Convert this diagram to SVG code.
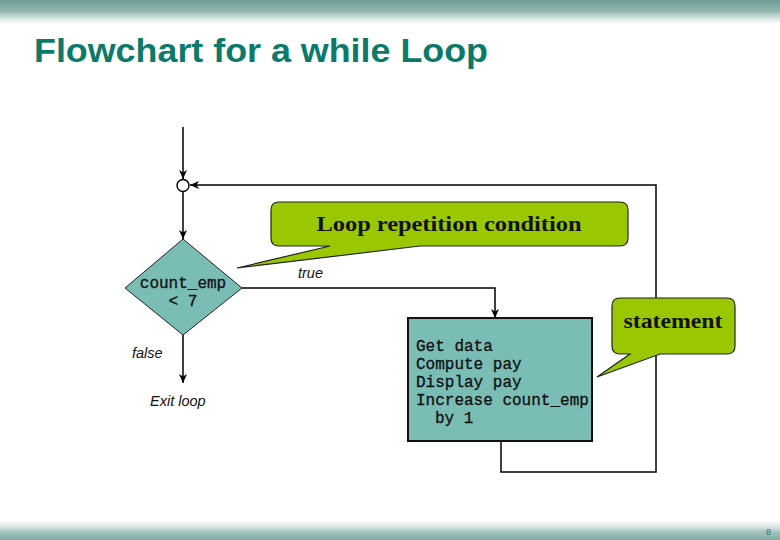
<svg xmlns="http://www.w3.org/2000/svg" width="780" height="540" viewBox="0 0 780 540">
<defs>
<linearGradient id="topband" x1="0" y1="0" x2="0" y2="1">
<stop offset="0" stop-color="#6f9c95"/>
<stop offset="0.45" stop-color="#8fb5ae"/>
<stop offset="0.75" stop-color="#d2e3e0"/>
<stop offset="1" stop-color="#ffffff"/>
</linearGradient>
<linearGradient id="botband" x1="0" y1="0" x2="0" y2="1">
<stop offset="0" stop-color="#ffffff"/>
<stop offset="0.35" stop-color="#d8e6e3"/>
<stop offset="0.6" stop-color="#a3c4be"/>
<stop offset="1" stop-color="#82aaa3"/>
</linearGradient>
<marker id="arr" markerWidth="10" markerHeight="10" refX="9" refY="4" orient="auto" markerUnits="userSpaceOnUse">
<path d="M0,0 L9,4 L0,8 L2.5,4 z" fill="#000"/>
</marker>
<style>
.conn{fill:none;stroke:#000;stroke-width:1.5}
.mono{font-family:"Liberation Mono","Courier New",monospace;font-size:16px;fill:#111;stroke:#111;stroke-width:0.3}
.lbl{font-family:"Liberation Sans",Arial,sans-serif;font-style:italic;font-size:14.5px;fill:#111}
.callout{fill:#99c800;stroke:#222;stroke-width:1.2}
.ctext{font-family:"Liberation Serif","Times New Roman",serif;font-weight:bold;font-size:22px;fill:#111}
</style>
</defs>
<rect x="0" y="0" width="780" height="540" fill="#ffffff"/>
<rect x="0" y="0" width="780" height="24" fill="url(#topband)"/>
<rect x="0" y="520" width="780" height="20" fill="url(#botband)"/>
<text x="34" y="62" font-family="Liberation Sans, Arial, sans-serif" font-weight="bold" font-size="34" fill="#0b7a6a" textLength="454" lengthAdjust="spacingAndGlyphs">Flowchart for a while Loop</text>
<text x="766" y="535" font-family="Liberation Sans, Arial, sans-serif" font-size="9" fill="#2a7a70">8</text>

<g id="connectors">
<line class="conn" x1="183" y1="127" x2="183" y2="179" marker-end="url(#arr)"/>
<line class="conn" x1="183" y1="192" x2="183" y2="239" marker-end="url(#arr)"/>
<polyline class="conn" points="242,288 495,288 495,318" marker-end="url(#arr)"/>
<polyline class="conn" points="501,441 501,472 656,472 656,185 190,185" marker-end="url(#arr)"/>
<line class="conn" x1="183" y1="335" x2="183" y2="383" marker-end="url(#arr)"/>
</g>

<g id="junction">
<circle cx="183" cy="185.5" r="6" fill="#fff" stroke="#000" stroke-width="1.4"/>
</g>

<g id="decision">
<polygon points="183,239 242,288 183,335 125,288" fill="#79bdb5" stroke="#222" stroke-width="1"/>
<text class="mono" x="183" y="288" text-anchor="middle">count_emp</text>
<text class="mono" x="183" y="306" text-anchor="middle">&lt; 7</text>
</g>

<g id="body">
<rect x="408" y="318" width="184" height="123" fill="#79bdb5" stroke="#111" stroke-width="2"/>
<text class="mono" x="416" y="351">Get data</text>
<text class="mono" x="416" y="369">Compute pay</text>
<text class="mono" x="416" y="387">Display pay</text>
<text class="mono" x="416" y="405">Increase count_emp</text>
<text class="mono" x="435" y="423">by 1</text>
</g>

<g id="label-true"><text class="lbl" x="298" y="278">true</text></g>
<g id="label-false"><text class="lbl" x="132" y="358">false</text></g>
<g id="exit"><text class="lbl" x="150" y="406">Exit loop</text></g>

<g id="callout-condition">
<path class="callout" d="M279,202 H620 Q628,202 628,210 V238 Q628,246 620,246 H420 L237,268 L330,246 H279 Q271,246 271,238 V210 Q271,202 279,202 Z"/>
<text class="ctext" x="449" y="231" text-anchor="middle" textLength="265" lengthAdjust="spacingAndGlyphs">Loop repetition condition</text>
</g>

<g id="callout-statement">
<path class="callout" d="M620,298 H727 Q735,298 735,306 V346 Q735,354 727,354 H660 L597,377 L630,354 H620 Q612,354 612,346 V306 Q612,298 620,298 Z"/>
<text class="ctext" x="673" y="328" text-anchor="middle" textLength="99" lengthAdjust="spacingAndGlyphs">statement</text>
</g>
</svg>
